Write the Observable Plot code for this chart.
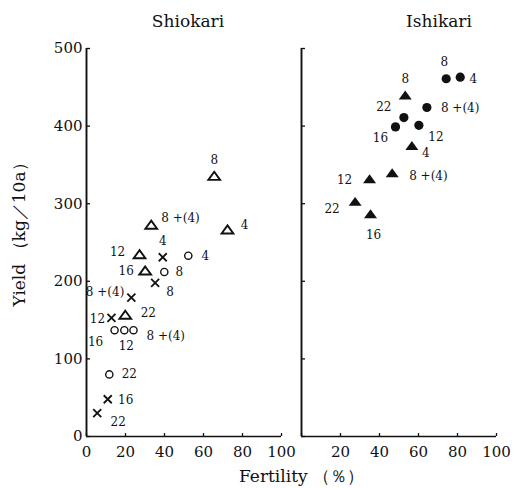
<!DOCTYPE html>
<html><head><meta charset="utf-8">
<script src="https://cdn.jsdelivr.net/npm/d3@7"></script>
<script src="https://cdn.jsdelivr.net/npm/@observablehq/plot@0.6"></script>
<style>body{margin:0;background:#fff} #chart{width:516px;height:488px}</style>
</head><body><div id="chart"></div>
<script>
const panels = ["Shiokari", "Ishikari"];
const pointLabels = ["4", "8", "8 +(4)", "12", "16", "22"];
const shioTriFert = [72.3, 65.5, 33.2, 27.2, 30.1, 19.9];
const shioTriYield = [266, 335, 272, 234, 213, 156];
const shioCrossFert = [39.1, 35.2, 23.0, 12.8, 10.9, 5.5];
const shioCrossYield = [231, 198, 179, 153, 48, 30];
const shioCircFert = [52.2, 39.9, 24.1, 19.4, 14.4, 11.7];
const shioCircYield = [233, 212, 137, 137, 137, 80];
const ishiCircFert = [81.4, 74.2, 64.3, 60.2, 48.2, 52.5];
const ishiCircYield = [463, 461, 424, 401, 399, 411];
const ishiTriFert = [56.6, 53.2, 46.5, 34.9, 35.4, 27.5];
const ishiTriYield = [374, 439, 339, 331, 286, 302];
const xTicksShiokari = [0, 20, 40, 60, 80, 100];
const xTicksIshikari = [20, 40, 60, 80, 100];
const yTicks = [0, 100, 200, 300, 400, 500];
const yLabel = "Yield （kg／10a）";
const xLabel = "Fertility （％）";

// label placement (pixel offsets from point), order as pointLabels
const offShioTri = [[17,-5],[0,-16],[10,-7,"start"],[-22,-3],[-19,0],[23,-2]];
const offShioCross = [[0,-16],[15,9],[-7,-5,"end"],[-14,1],[18,1],[21,9]];
const offShioCirc = [[17,0],[15,0],[13,6,"start"],[2,16],[-19,12],[20,0]];
const offIshiCirc = [[13,2],[-2,-17],[14,1,"start"],[17,12],[-15,11],[-20,-10]];
const offIshiTri = [[14,7],[0,-17],[17,3,"start"],[-25,1],[3,21],[-23,7]];

const ink = "#111";
const flatTri = {draw(ctx, size) {
  const r = Math.sqrt(size / Math.PI);
  ctx.moveTo(0, -0.85 * r); ctx.lineTo(1.05 * r, 0.6 * r); ctx.lineTo(-1.05 * r, 0.6 * r); ctx.closePath();
}};
const cross = {draw(ctx, size) {
  const r = Math.sqrt(size / Math.PI);
  ctx.moveTo(-r, -r); ctx.lineTo(r, r); ctx.moveTo(r, -r); ctx.lineTo(-r, r);
}};

const series = [
  {panel: "Shiokari", fert: shioTriFert, yld: shioTriYield, offs: offShioTri, symbol: flatTri, r: 5.6, fill: "none", stroke: ink, sw: 1.9},
  {panel: "Shiokari", fert: shioCrossFert, yld: shioCrossYield, offs: offShioCross, symbol: cross, r: 4, fill: "none", stroke: ink, sw: 1.8},
  {panel: "Shiokari", fert: shioCircFert, yld: shioCircYield, offs: offShioCirc, symbol: "circle", r: 3.6, fill: "none", stroke: ink, sw: 1.4},
  {panel: "Ishikari", fert: ishiCircFert, yld: ishiCircYield, offs: offIshiCirc, symbol: "circle", r: 4.6, fill: ink, stroke: "none", sw: 0},
  {panel: "Ishikari", fert: ishiTriFert, yld: ishiTriYield, offs: offIshiTri, symbol: flatTri, r: 6.2, fill: ink, stroke: "none", sw: 0}
];

const marks = [
  Plot.ruleX([0], {stroke: ink, strokeWidth: 1.9}),
  Plot.ruleY([0], {stroke: ink, strokeWidth: 1.5}),
  Plot.axisX({ticks: xTicksShiokari, tickSize: -3, fill: "none", label: null, stroke: ink, strokeWidth: 1.3}),
  Plot.axisY({ticks: yTicks, tickSize: -4, fill: "none", label: null, facetAnchor: null, stroke: ink, strokeWidth: 1.3}),
  Plot.axisY({ticks: yTicks, tickSize: 0, tickPadding: 4, label: null, fontSize: 15, fill: ink}),
  Plot.text(xTicksShiokari, {x: d => d, fx: () => "Shiokari", text: d => String(d), frameAnchor: "bottom", lineAnchor: "middle", dy: 16, fontSize: 15, fill: ink}),
  Plot.text(xTicksIshikari, {x: d => d, fx: () => "Ishikari", text: d => String(d), frameAnchor: "bottom", lineAnchor: "middle", dy: 16, fontSize: 15, fill: ink}),
];

for (const s of series) {
  const data = pointLabels.map((lab, i) => ({panel: s.panel, label: lab, fert: s.fert[i], yld: s.yld[i]}));
  marks.push(Plot.dot(data, {x: "fert", y: "yld", fx: "panel", symbol: s.symbol, r: s.r, fill: s.fill, stroke: s.stroke, strokeWidth: s.sw}));
  data.forEach((d, i) => {
    const [dx, dy, anchor = "middle"] = s.offs[i];
    marks.push(Plot.text([d], {x: "fert", y: "yld", fx: "panel", text: "label", dx, dy, textAnchor: anchor, fontSize: 12, fill: ink}));
  });
}

marks.push(
  Plot.text([panels[0]], {fx: d => d, text: d => d, frameAnchor: "top", lineAnchor: "middle", dx: 4, dy: -27, fontSize: 17, fill: ink}),
  Plot.text([panels[1]], {fx: d => d, text: d => d, frameAnchor: "top", lineAnchor: "middle", dx: 40, dy: -27, fontSize: 17, fill: ink}),
  Plot.text([yLabel], {fx: () => "Shiokari", text: d => d, frameAnchor: "left", textAnchor: "middle", lineAnchor: "middle", rotate: -90, dx: -67, dy: -12, fontSize: 17, fill: ink}),
  Plot.text([xLabel], {fx: () => "Ishikari", text: d => d, frameAnchor: "bottom-left", textAnchor: "middle", lineAnchor: "middle", dy: 40, fontSize: 17, fill: ink})
);

const chart = Plot.plot({
  width: 516, height: 488,
  marginTop: 48, marginBottom: 52, marginLeft: 86, marginRight: 19,
  style: {fontFamily: "DejaVu Serif", fontSize: "12px", color: ink, background: "#fff"},
  x: {domain: [0, 100], axis: null},
  y: {domain: [0, 500], axis: null},
  fx: {domain: panels, paddingInner: 0.093, paddingOuter: 0, axis: null},
  marks
});
document.getElementById("chart").appendChild(chart);
</script>
</body></html>
